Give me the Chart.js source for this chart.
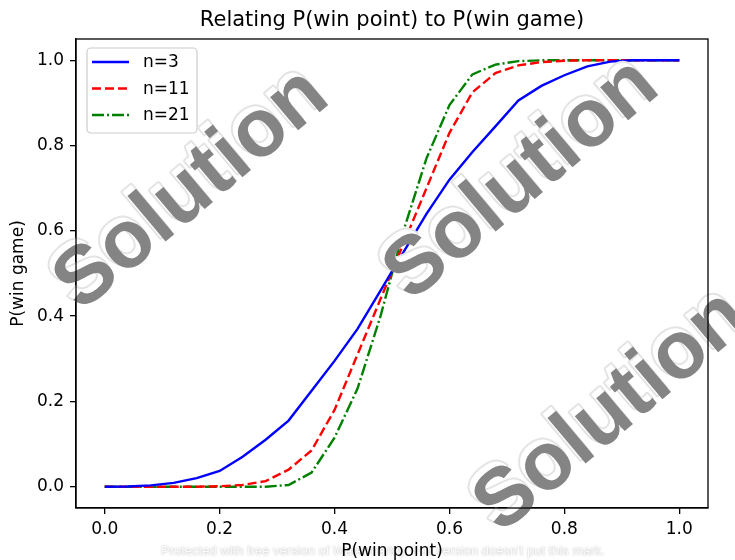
<!DOCTYPE html>
<html>
<head>
<meta charset="utf-8">
<title>Relating P(win point) to P(win game)</title>
<script src="https://cdn.jsdelivr.net/npm/chart.js@4.4.1/dist/chart.umd.min.js"></script>
<style>
  body { margin: 0; background: #fff; }
  #wrap { width: 735px; height: 560px; }
</style>
</head>
<body>
<div id="wrap"><canvas id="game-chart" width="735" height="560"></canvas></div>
<script>
// values
var pointProb = [0, 0.04, 0.08, 0.12, 0.16, 0.20, 0.24, 0.28, 0.32, 0.36, 0.40, 0.44, 0.48,
                 0.52, 0.56, 0.60, 0.64, 0.68, 0.72, 0.76, 0.80, 0.84, 0.88, 0.92, 0.96, 1.0];
var gameN3  = [0, 0.0005, 0.003, 0.009, 0.02, 0.037, 0.07, 0.11, 0.155, 0.225, 0.295, 0.37, 0.46,
               0.55, 0.64, 0.72, 0.785, 0.845, 0.906, 0.94, 0.965, 0.986, 0.997, 1, 1, 1];
var gameN11 = [0, 0, 0, 0, 0, 0.001, 0.004, 0.013, 0.04, 0.085, 0.18, 0.31, 0.44,
               0.57, 0.70, 0.83, 0.925, 0.97, 0.988, 0.996, 0.999, 1, 1, 1, 1, 1];
var gameN21 = [0, 0, 0, 0, 0, 0, 0, 0, 0.004, 0.033, 0.115, 0.23, 0.40,
               0.60, 0.77, 0.895, 0.967, 0.99, 0.998, 1, 1, 1, 1, 1, 1, 1];
var seriesNames = ['n=3', 'n=11', 'n=21'];
var tickValues = [0, 0.2, 0.4, 0.6, 0.8, 1.0];

var lineColors = ['#0000ff', '#ff0000', '#008000'];
var lineDashes = [[], [9, 4], [12, 3, 2, 3]];

Chart.defaults.font.family = '"DejaVu Sans", sans-serif';
Chart.defaults.color = '#000';

function toPoints(ys) {
    return pointProb.map(function(x, i) { return {x: x, y: ys[i]}; });
}

// box around the plot, like matplotlib
var framePlugin = {
    id: 'frame',
    afterDraw: function(chart) {
        var a = chart.chartArea, ctx = chart.ctx;
        ctx.save();
        ctx.strokeStyle = '#000';
        ctx.lineWidth = 1.3;
        ctx.strokeRect(a.left, a.top, a.right - a.left, a.bottom - a.top);
        ctx.restore();
    }
};

var titlePlugin = {
    id: 'topTitle',
    afterDraw: function(chart) {
        var a = chart.chartArea, ctx = chart.ctx;
        ctx.save();
        ctx.fillStyle = '#000';
        ctx.font = '21px "DejaVu Sans"';
        ctx.textAlign = 'center';
        ctx.textBaseline = 'middle';
        ctx.fillText('Relating P(win point) to P(win game)', (a.left + a.right) / 2, 21);
        ctx.restore();
    }
};

var legendPlugin = {
    id: 'boxLegend',
    afterDatasetsDraw: function(chart) {
        var ctx = chart.ctx;
        var x = 87, y = 48, w = 110, h = 85, r = 4;
        ctx.save();
        ctx.beginPath();
        ctx.roundRect(x, y, w, h, r);
        ctx.fillStyle = 'rgba(255,255,255,0.8)';
        ctx.fill();
        ctx.strokeStyle = '#cccccc';
        ctx.lineWidth = 1.2;
        ctx.stroke();
        var rows = [62, 88.5, 115];
        for (var i = 0; i < seriesNames.length; i++) {
            ctx.beginPath();
            ctx.setLineDash(lineDashes[i]);
            ctx.strokeStyle = lineColors[i];
            ctx.lineWidth = 2.4;
            ctx.moveTo(92, rows[i]);
            ctx.lineTo(129, rows[i]);
            ctx.stroke();
            ctx.setLineDash([]);
            ctx.fillStyle = '#000';
            ctx.font = '17px "DejaVu Sans"';
            ctx.textAlign = 'left';
            ctx.textBaseline = 'middle';
            ctx.fillText(seriesNames[i], 143, rows[i] + 1);
        }
        ctx.restore();
    }
};

// the "Solution" stamps and the footer note laid over the picture
function drawStamp(ctx, cx, cy) {
    ctx.save();
    ctx.translate(cx, cy);
    ctx.font = 'bold 82px "Liberation Sans"';
    ctx.textAlign = 'center';
    ctx.textBaseline = 'middle';
    // white back copy, shifted up-left
    ctx.save();
    ctx.translate(-5, -4);
    ctx.rotate(-40 * Math.PI / 180);
    ctx.lineJoin = 'round';
    ctx.strokeStyle = '#e4e4e4';
    ctx.lineWidth = 4;
    ctx.strokeText('Solution', 0, 0);
    ctx.fillStyle = '#fff';
    ctx.fillText('Solution', 0, 0);
    ctx.restore();
    ctx.rotate(-40 * Math.PI / 180);
    ctx.fillStyle = '#848484';
    ctx.fillText('Solution', 0, 0);
    ctx.restore();
}

var stampPlugin = {
    id: 'stamps',
    beforeDraw: function(chart) {
        var ctx = chart.ctx;
        ctx.save();
        ctx.fillStyle = '#fff';
        ctx.fillRect(0, 0, chart.width, chart.height);
        ctx.font = '13px "Liberation Sans"';
        ctx.textAlign = 'center';
        ctx.textBaseline = 'middle';
        ctx.shadowColor = 'rgba(0,0,0,0.35)';
        ctx.shadowBlur = 2;
        ctx.fillStyle = 'rgba(255,255,255,0.9)';
        ctx.fillText("Protected with free version of Watermarkly. Full version doesn't put this mark.", 383, 551);
        ctx.restore();
    },
    afterDraw: function(chart) {
        var ctx = chart.ctx;
        drawStamp(ctx, 192, 190);
        drawStamp(ctx, 522, 180);
        drawStamp(ctx, 612, 412);
    }
};

var ctx = document.getElementById('game-chart').getContext('2d');
var gameChart = new Chart(ctx, {
    type: 'line',
    data: {
        datasets: [gameN3, gameN11, gameN21].map(function(ys, i) {
            return {
                label: seriesNames[i],
                data: toPoints(ys),
                borderColor: lineColors[i],
                backgroundColor: lineColors[i],
                borderDash: lineDashes[i],
                borderWidth: 2.4,
                pointRadius: 0,
                tension: 0,
                fill: false
            };
        })
    },
    options: {
        responsive: false,
        animation: false,
        layout: { padding: { top: 39, right: 27, left: 0, bottom: 0 } },
        plugins: {
            legend: { display: false },
            title: { display: false },
            tooltip: { enabled: false }
        },
        scales: {
            x: {
                type: 'linear',
                min: -0.05,
                max: 1.05,
                afterBuildTicks: function(scale) {
                    scale.ticks = tickValues.map(function(v) { return {value: v}; });
                },
                afterFit: function(scale) { scale.height = 52; },
                ticks: {
                    font: { size: 17 },
                    padding: 5,
                    maxRotation: 0,
                    callback: function(v) { return v.toFixed(1); }
                },
                grid: { display: true, drawOnChartArea: false, drawTicks: true, tickLength: 6, color: '#000', lineWidth: 1.3 },
                border: { display: true, color: '#000', width: 1.3 },
                title: { display: true, text: 'P(win point)', font: { size: 17, lineHeight: 1 }, padding: { top: 0, bottom: 0 } }
            },
            y: {
                type: 'linear',
                min: -0.05,
                max: 1.05,
                afterBuildTicks: function(scale) {
                    scale.ticks = tickValues.map(function(v) { return {value: v}; });
                },
                afterFit: function(scale) { scale.width = 76; },
                ticks: {
                    font: { size: 17 },
                    padding: 6,
                    callback: function(v) { return v.toFixed(1); }
                },
                grid: { display: true, drawOnChartArea: false, drawTicks: true, tickLength: 6, color: '#000', lineWidth: 1.3 },
                border: { display: true, color: '#000', width: 1.3 },
                title: { display: true, text: 'P(win game)', font: { size: 17, lineHeight: 1 }, padding: { top: 10, bottom: 0 } }
            }
        }
    },
    plugins: [stampPlugin, framePlugin, legendPlugin, titlePlugin]
});
</script>
</body>
</html>
